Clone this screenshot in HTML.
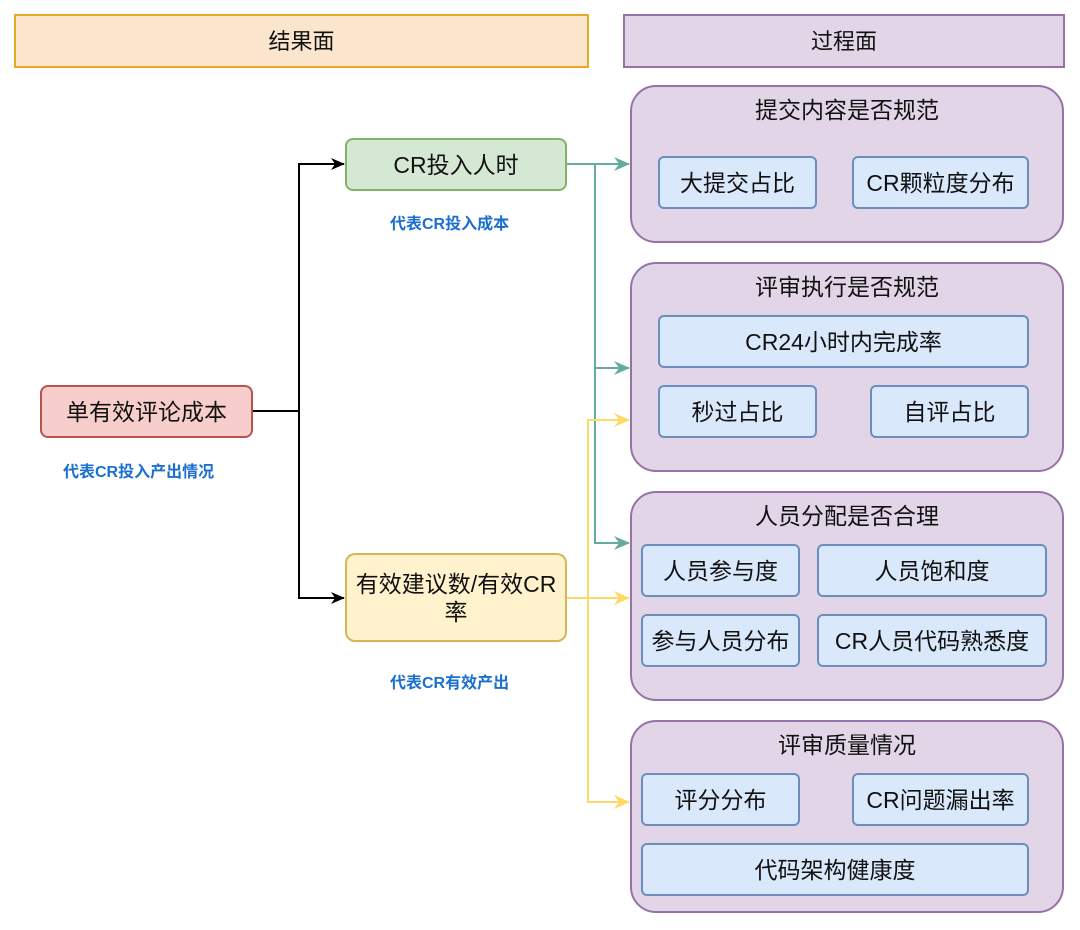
<!DOCTYPE html>
<html><head><meta charset="utf-8"><style>
body{margin:0;width:1080px;height:930px;background:#fff;position:relative;font-family:"Liberation Sans","Noto Sans CJK SC",sans-serif;overflow:hidden}
.b{position:absolute;box-sizing:border-box;display:flex;align-items:center;justify-content:center;text-align:center;font-size:23px;color:#111;line-height:1.2;padding-top:3px}
.p{background:#e1d5e7;border:2px solid #9673a6;border-radius:26px;align-items:flex-start;padding-top:10px}
.i{background:#dae8fc;border:2px solid #6c8ebf;border-radius:6px}
.l{position:absolute;color:#1a6fd0;font-size:16px;font-weight:bold}
</style></head><body>
<div class="b" style="left:14px;top:14px;width:575px;height:54px;background:#fce5cd;border:2px solid #e6a928;font-size:22px">结果面</div>
<div class="b" style="left:623px;top:14px;width:442px;height:54px;background:#e1d5e7;border:2px solid #9673a6;font-size:22px">过程面</div>

<svg style="position:absolute;left:0;top:0" width="1080" height="930">
<defs>
<marker id="k" markerWidth="14" markerHeight="12" refX="13" refY="6" orient="auto" markerUnits="userSpaceOnUse"><path d="M0,0 L14,6 L0,12 L4,6z" fill="#000"/></marker>
<marker id="g" markerWidth="16" markerHeight="14" refX="15" refY="7" orient="auto" markerUnits="userSpaceOnUse"><path d="M0,0 L16,7 L0,14 L5,7z" fill="#67ab9f"/></marker>
<marker id="y" markerWidth="16" markerHeight="14" refX="15" refY="7" orient="auto" markerUnits="userSpaceOnUse"><path d="M0,0 L16,7 L0,14 L5,7z" fill="#ffd966"/></marker>
</defs>
<g fill="none" stroke-width="2">
<path d="M253,411 H299 V164 H344" stroke="#000" marker-end="url(#k)"/>
<path d="M299,411 V598 H344" stroke="#000" marker-end="url(#k)"/>
<path d="M567,164 H629" stroke="#67ab9f" marker-end="url(#g)"/>
<path d="M595,164 V368 H629" stroke="#67ab9f" marker-end="url(#g)"/>
<path d="M595,368 V543 H629" stroke="#67ab9f" marker-end="url(#g)"/>
<path d="M567,598 H629" stroke="#ffd966" marker-end="url(#y)"/>
<path d="M600,420 H588 V802 H629" stroke="#ffd966" marker-end="url(#y)"/>
<path d="M588,420 H629" stroke="#ffd966" marker-end="url(#y)"/>
</g>
</svg>

<div class="b" style="left:40px;top:385px;width:213px;height:53px;background:#f8cecc;border:2px solid #b85450;border-radius:8px">单有效评论成本</div>
<div class="l" style="left:63px;top:458px">代表CR投入产出情况</div>
<div class="b" style="left:345px;top:138px;width:222px;height:53px;background:#d5e8d4;border:2px solid #82b366;border-radius:8px">CR投入人时</div>
<div class="l" style="left:390px;top:210px">代表CR投入成本</div>
<div class="b" style="left:345px;top:553px;width:222px;height:89px;background:#fff2cc;border:2px solid #d6b656;border-radius:10px">有效建议数/有效CR<br>率</div>
<div class="l" style="left:390px;top:669px">代表CR有效产出</div>

<div class="b p" style="left:630px;top:85px;width:434px;height:158px">提交内容是否规范</div>
<div class="b i" style="left:658px;top:156px;width:159px;height:53px">大提交占比</div>
<div class="b i" style="left:852px;top:156px;width:177px;height:53px">CR颗粒度分布</div>

<div class="b p" style="left:630px;top:262px;width:434px;height:210px">评审执行是否规范</div>
<div class="b i" style="left:658px;top:315px;width:371px;height:53px">CR24小时内完成率</div>
<div class="b i" style="left:658px;top:385px;width:159px;height:53px">秒过占比</div>
<div class="b i" style="left:870px;top:385px;width:159px;height:53px">自评占比</div>

<div class="b p" style="left:630px;top:491px;width:434px;height:210px">人员分配是否合理</div>
<div class="b i" style="left:641px;top:544px;width:159px;height:53px">人员参与度</div>
<div class="b i" style="left:817px;top:544px;width:230px;height:53px">人员饱和度</div>
<div class="b i" style="left:641px;top:614px;width:159px;height:53px">参与人员分布</div>
<div class="b i" style="left:817px;top:614px;width:230px;height:53px">CR人员代码熟悉度</div>

<div class="b p" style="left:630px;top:720px;width:434px;height:193px">评审质量情况</div>
<div class="b i" style="left:641px;top:773px;width:159px;height:53px">评分分布</div>
<div class="b i" style="left:852px;top:773px;width:177px;height:53px">CR问题漏出率</div>
<div class="b i" style="left:641px;top:843px;width:388px;height:53px">代码架构健康度</div>
</body></html>
